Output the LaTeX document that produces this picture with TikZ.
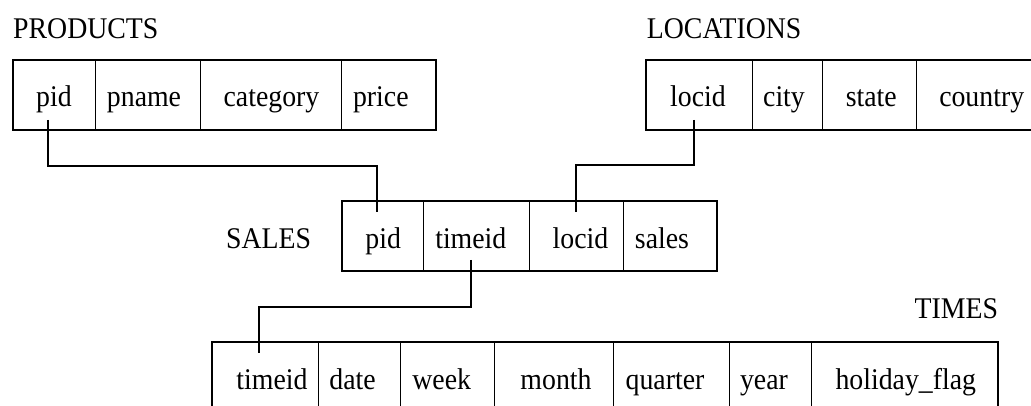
\documentclass[tikz,border=0pt]{standalone}
\usepackage{graphicx}
\usepackage{fontspec}
\setmainfont{Liberation Serif}
\newcommand{\stretchtxt}[1]{\scalebox{1}[1.08]{#1}}
\begin{document}
\begin{tikzpicture}[x=1pt,y=-1pt,
  tbl/.style={draw, line width=2pt, inner sep=0pt, outer sep=0pt},
  divline/.style={line width=1pt},
  fld/.style={anchor=base, inner sep=0pt, font=\fontsize{27.8}{30}\selectfont},
  ttl/.style={anchor=base west, inner sep=0pt, font=\fontsize{27.8}{30}\selectfont},
  link/.style={line width=2pt}]
\useasboundingbox (0,0) rectangle (1031,406);
\clip (0,0) rectangle (1031,406);
\fill[white] (0,0) rectangle (1031,406);

% titles
\node[ttl] (tprod) at (13,38.3) {\stretchtxt{PRODUCTS}};
\node[ttl] (tloc) at (646.7,38.3) {\stretchtxt{LOCATIONS}};
\node[ttl] (tsales) at (226,249) {\stretchtxt{SALES}};
\node[fld, anchor=base east] (ttimes) at (998.3,318.3) {\stretchtxt{TIMES}};

% PRODUCTS table
\foreach \x in {95.3,200.7,341.7} \draw[divline] (\x,60.5) -- (\x,130);
\node[tbl, minimum width=423pt, minimum height=69.5pt] (products) at (224,95.25) {};
\node[fld] (ppid) at (54,106.7) {\stretchtxt{pid}};
\node[fld] (ppname) at (144,106.7) {\stretchtxt{pname}};
\node[fld] (pcat) at (271.5,106.7) {\stretchtxt{category}};
\node[fld] (pprice) at (380.8,106.7) {\stretchtxt{price}};

% LOCATIONS table
\foreach \x in {752.3,822.7,916.7} \draw[divline] (\x,60.5) -- (\x,130);
\node[tbl, minimum width=400pt, minimum height=69.5pt] (locations) at (846,95.25) {};
\node[fld] (llocid) at (698,106.7) {\stretchtxt{locid}};
\node[fld] (lcity) at (784,106.7) {\stretchtxt{city}};
\node[fld] (lstate) at (871.3,106.7) {\stretchtxt{state}};
\node[fld] (lcountry) at (981.7,106.7) {\stretchtxt{country}};

% SALES table
\foreach \x in {423.3,529.3,623.3} \draw[divline] (\x,201.5) -- (\x,271.2);
\node[tbl, minimum width=375.6pt, minimum height=69.7pt] (sales) at (529.5,236.35) {};
\node[fld] (spid) at (383.2,249) {\stretchtxt{pid}};
\node[fld] (stimeid) at (470.8,249) {\stretchtxt{timeid}};
\node[fld] (slocid) at (580.5,249) {\stretchtxt{locid}};
\node[fld] (ssales) at (662,249) {\stretchtxt{sales}};

% TIMES table
\foreach \x in {318.3,400.5,494.5,613.5,729.3,811} \draw[divline] (\x,341.7) -- (\x,430);
\node[tbl, minimum width=785.4pt, minimum height=90pt] (times) at (605,386.7) {};
\node[fld] (ttimeid) at (272,389.3) {\stretchtxt{timeid}};
\node[fld] (tdate) at (352.5,389.3) {\stretchtxt{date}};
\node[fld] (tweek) at (441.7,389.3) {\stretchtxt{week}};
\node[fld] (tmonth) at (556,389.3) {\stretchtxt{month}};
\node[fld] (tquarter) at (665,389.3) {\stretchtxt{quarter}};
\node[fld] (tyear) at (764,389.3) {\stretchtxt{year}};
\node[fld] (tflag) at (905.8,389.3) {\stretchtxt{holiday\_flag}};

% connectors
\coordinate (pa) at ([xshift=-5.7pt,yshift=-13.3pt]ppid.base);
\coordinate (pb) at ([xshift=-6.5pt,yshift=37pt]spid.base);
\draw[link] (pa) -- ++(0,46) -| (pb);

\coordinate (la) at ([xshift=-4pt,yshift=-13.3pt]llocid.base);
\coordinate (lb) at ([xshift=-4.5pt,yshift=37pt]slocid.base);
\draw[link] (la) -- ++(0,45.5) -| (lb);

\coordinate (ta) at ([xshift=-0.1pt,yshift=-11pt]stimeid.base);
\coordinate (tb) at ([xshift=-12.7pt,yshift=36pt]ttimeid.base);
\draw[link] (ta) -- ++(0,46.7) -| (tb);
\end{tikzpicture}
\end{document}
